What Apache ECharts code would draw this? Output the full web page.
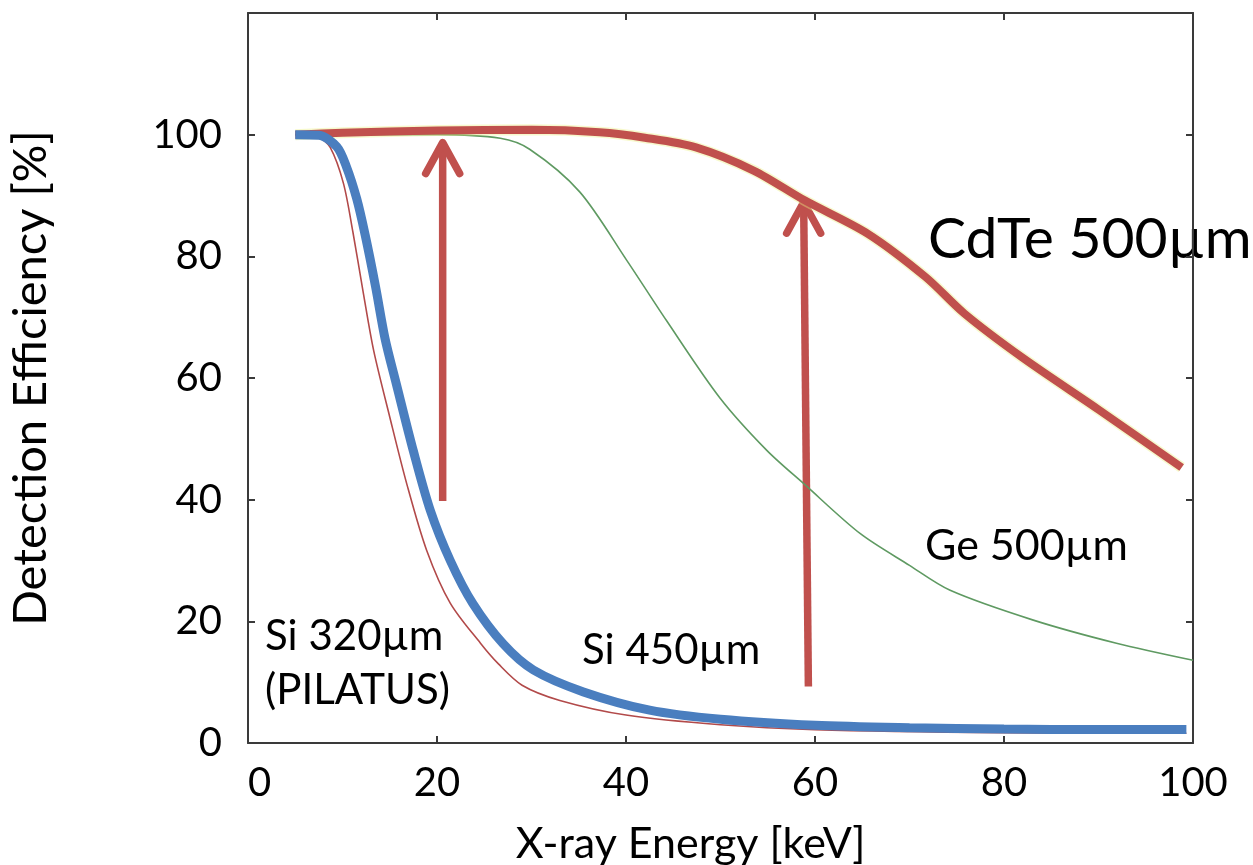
<!DOCTYPE html>
<html>
<head>
<meta charset="utf-8">
<title>Detection Efficiency</title>
<script src="https://cdn.jsdelivr.net/npm/echarts@6.0.0/dist/echarts.min.js"></script>
<style>
  html, body { margin: 0; padding: 0; background: #fff; }
  #chart { width: 1253px; height: 865px; }
</style>
</head>
<body>
<div id="chart"></div>
<script>
// values (energy in keV, efficiency in %)
var cdteEnergy = [5, 10, 20, 30, 37.2, 42, 47.4, 53.5, 58.9, 65.6, 71.7, 75.8, 81.9, 90.1, 98.8];
var cdteEff = [100, 100.3, 100.7, 100.8, 100.4, 99.5, 97.9, 94.1, 89.2, 83.7, 76.6, 70.6, 63.4, 54.7, 45.3];

var geEnergy = [5, 20, 26.7, 29.8, 35.1, 40.1, 44.3, 49.9, 54.9, 58.9, 64.8, 70, 74.3, 83.1, 91.9, 100];
var geEff = [100, 100, 99.4, 97.6, 90.6, 79.3, 69.4, 56.8, 48.1, 42.5, 34.4, 29.2, 25.1, 20.2, 16.4, 13.6];

var si320Energy = [5, 7.5, 8.7, 10.1, 11.1, 12.2, 13.3, 15, 16.8, 18.9, 21.4, 24.6, 26.5, 29, 33, 40, 50, 60, 80, 99.3];
var si320Eff = [100, 99.5, 97.9, 92, 84, 74, 64.5, 53.6, 42.6, 31.7, 23, 16.4, 13, 9.5, 7, 4.6, 3, 2.2, 1.7, 1.6];

var si450Energy = [5, 7.5, 9.4, 10.4, 11.5, 12.4, 13.5, 14.5, 15.7, 17.5, 19.3, 21.4, 23.8, 27, 30.2, 35.5, 42.5, 50, 60, 70, 80, 90, 99.3];
var si450Eff = [100, 99.9, 98, 94.8, 89.5, 83.5, 75, 66.5, 59, 48, 38.2, 30, 22.9, 16.3, 12, 8.4, 5.4, 3.9, 2.9, 2.5, 2.3, 2.2, 2.2];

// arrows: [x bottom, y bottom, x tip, y tip]
var arrows = [
  [20.6, 39.8, 20.6, 98.7],
  [59.3, 9.3, 58.8, 88.9]
];

function pairs(xs, ys) {
  return xs.map(function (x, i) { return [x, ys[i]]; });
}

var FONT = 'Lato, "Noto Sans", sans-serif';
var axisColor = '#3a3a3a';
var arrowColor = '#C0504D';

var chart = echarts.init(document.getElementById('chart'));

chart.setOption({
  backgroundColor: '#fff',
  animation: false,
  grid: { left: 248, right: 60, top: 13, bottom: 122, containLabel: false, outerBoundsMode: 'none' },
  xAxis: [
    {
      type: 'value',
      min: 0,
      max: 100,
      interval: 20,
      name: 'X-ray Energy [keV]',
      nameLocation: 'middle',
      nameGap: 80,
      nameTextStyle: { fontFamily: FONT, fontSize: 43, color: '#000', padding: [0, 60, 0, 0] },
      axisLine: { onZero: false, lineStyle: { color: axisColor, width: 2 } },
      axisTick: { inside: true, length: 7, lineStyle: { color: axisColor, width: 2 } },
      axisLabel: { margin: 20, fontFamily: FONT, fontSize: 40, color: '#000', alignMinLabel: 'left' },
      splitLine: { show: false }
    },
    {
      type: 'value',
      position: 'top',
      min: 0,
      max: 100,
      interval: 20,
      axisLine: { onZero: false, lineStyle: { color: axisColor, width: 2 } },
      axisTick: { inside: true, length: 7, lineStyle: { color: axisColor, width: 2 } },
      axisLabel: { show: false },
      splitLine: { show: false }
    }
  ],
  yAxis: [
    {
      type: 'value',
      min: 0,
      max: 120,
      interval: 20,
      name: 'Detection Efficiency [%]',
      nameLocation: 'middle',
      nameGap: 194,
      nameRotate: 90,
      nameTextStyle: { fontFamily: FONT, fontSize: 47, color: '#000' },
      axisLine: { onZero: false, lineStyle: { color: axisColor, width: 2 } },
      axisTick: { inside: true, length: 7, lineStyle: { color: axisColor, width: 2 } },
      axisLabel: {
        margin: 26,
        fontFamily: FONT,
        fontSize: 40,
        color: '#000',
        formatter: function (v) { return v > 100 ? '' : v; }
      },
      splitLine: { show: false }
    },
    {
      type: 'value',
      position: 'right',
      min: 0,
      max: 120,
      interval: 20,
      axisLine: { onZero: false, lineStyle: { color: axisColor, width: 2 } },
      axisTick: { inside: true, length: 7, lineStyle: { color: axisColor, width: 2 } },
      axisLabel: { show: false },
      splitLine: { show: false }
    }
  ],
  series: [
    {
      name: 'Ge 500um',
      type: 'line',
      data: pairs(geEnergy, geEff),
      showSymbol: false,
      smooth: 0.3,
      lineStyle: { color: '#5f9a62', width: 1.6 }
    },
    {
      // faint yellow edge under the CdTe curve
      name: 'CdTe halo',
      type: 'line',
      data: pairs(cdteEnergy, cdteEff),
      showSymbol: false,
      smooth: 0.3,
      lineStyle: { color: 'rgba(236,240,130,0.4)', width: 11 }
    },
    {
      name: 'CdTe 500um',
      type: 'line',
      data: pairs(cdteEnergy, cdteEff),
      showSymbol: false,
      smooth: 0.3,
      lineStyle: { color: '#C0504D', width: 8 }
    },
    {
      name: 'Si 320um',
      type: 'line',
      data: pairs(si320Energy, si320Eff),
      showSymbol: false,
      smooth: 0.3,
      lineStyle: { color: '#b24a4a', width: 1.6 }
    },
    {
      name: 'Si 450um',
      type: 'line',
      data: pairs(si450Energy, si450Eff),
      showSymbol: false,
      smooth: 0.3,
      lineStyle: { color: '#4A7EBF', width: 9 }
    },
    {
      name: 'arrows',
      type: 'custom',
      data: arrows,
      encode: { x: [0, 2], y: [1, 3] },
      renderItem: function (params, api) {
        var p0 = api.coord([api.value(0), api.value(1)]);
        var p1 = api.coord([api.value(2), api.value(3)]);
        return {
          type: 'group',
          children: [
            {
              type: 'polyline',
              shape: { points: [p0, p1] },
              style: { stroke: arrowColor, lineWidth: 7.5, fill: null }
            },
            {
              type: 'polyline',
              shape: { points: [[p1[0] - 17, p1[1] + 31], p1, [p1[0] + 17, p1[1] + 31]] },
              style: { stroke: arrowColor, lineWidth: 7.5, lineCap: 'round', lineJoin: 'round', fill: null }
            }
          ]
        };
      }
    }
  ],
  graphic: [
    { type: 'text', x: 928, y: 240, style: { text: 'CdTe 500\u00b5m', font: '57px ' + FONT, fill: '#000', verticalAlign: 'middle' } },
    { type: 'text', x: 925, y: 546, style: { text: 'Ge 500\u00b5m', font: '43px ' + FONT, fill: '#000', verticalAlign: 'middle' } },
    { type: 'text', x: 582, y: 650, style: { text: 'Si 450\u00b5m', font: '42px ' + FONT, fill: '#000', verticalAlign: 'middle' } },
    { type: 'text', x: 265, y: 636, style: { text: 'Si 320\u00b5m', font: '42px ' + FONT, fill: '#000', verticalAlign: 'middle' } },
    { type: 'text', x: 265, y: 690, style: { text: '(PILATUS)', font: '42px ' + FONT, fill: '#000', verticalAlign: 'middle' } }
  ]
});
</script>
</body>
</html>
